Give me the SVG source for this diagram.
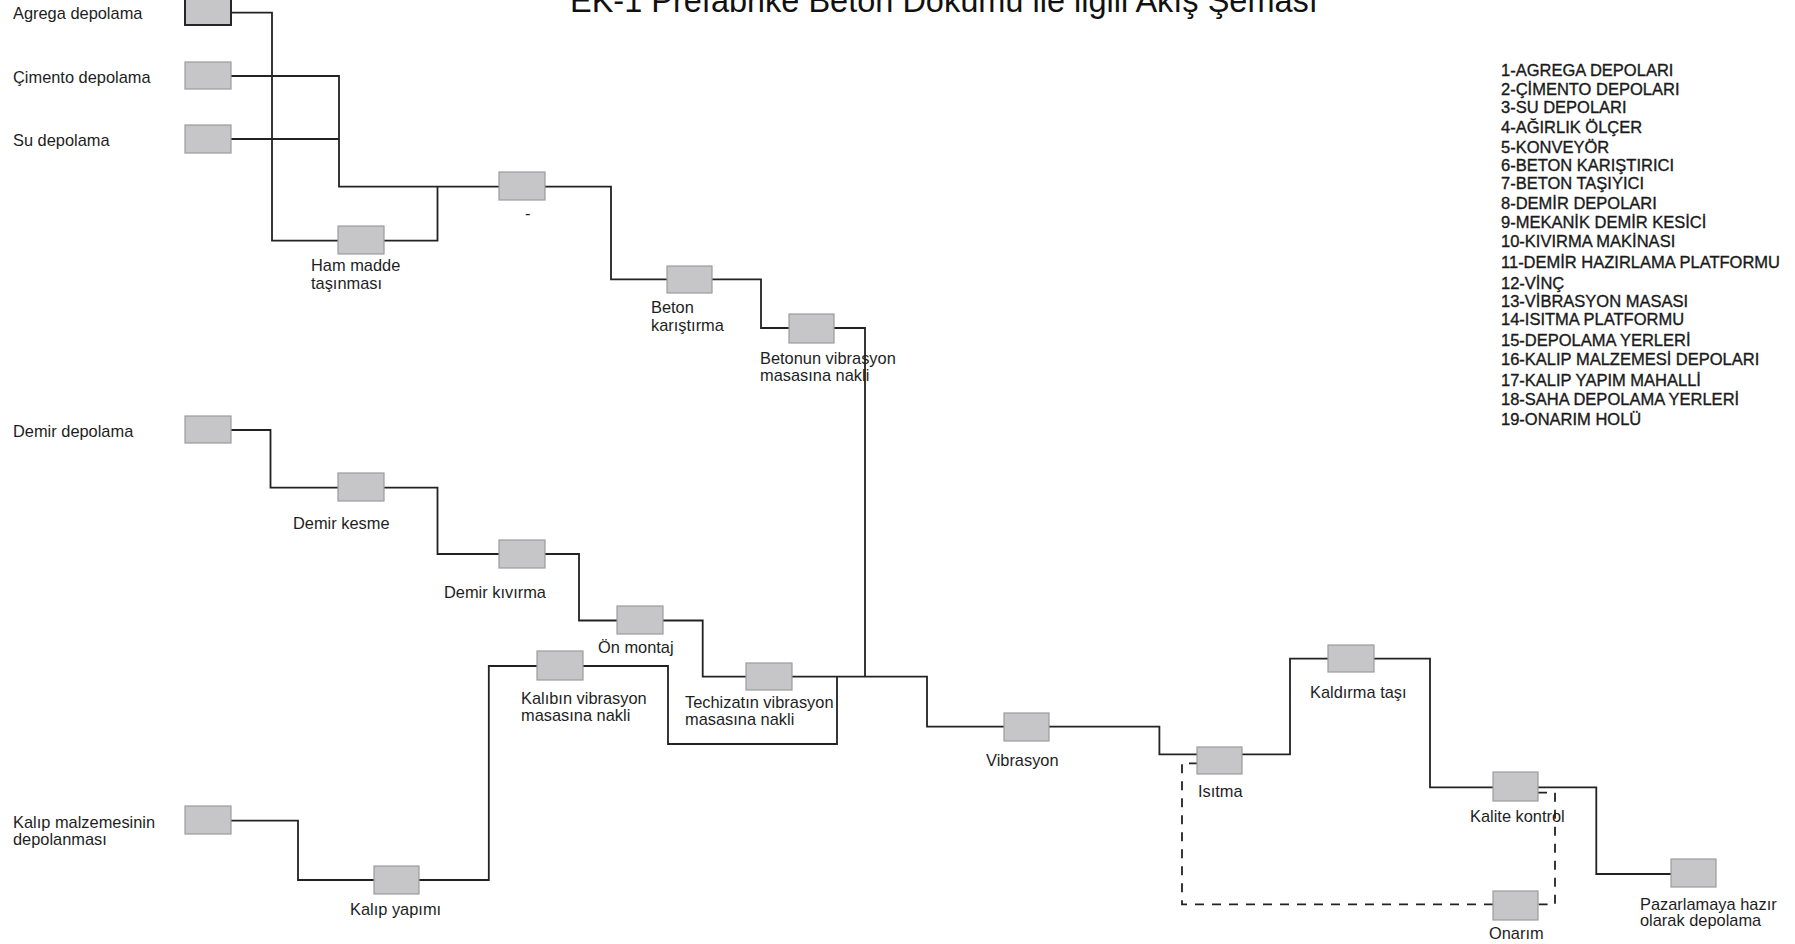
<svg xmlns="http://www.w3.org/2000/svg" width="1795" height="944" viewBox="0 0 1795 944">
  <style>
    .bg { fill: #ffffff; }
    .box { fill: #c6c6c8; stroke: #9c9c9c; stroke-width: 1.2; }
    .box.dark { stroke: #262626; stroke-width: 2; }
    .lbl { font-family: "Liberation Sans", Arial, sans-serif; font-size: 16.4px; fill: #1e1e1e; }
    .title { font-family: "Liberation Sans", Arial, sans-serif; font-size: 32.5px; fill: #111111; }
    .legend { font-family: "Liberation Sans", Arial, sans-serif; font-size: 16.5px; fill: #1a1a1a; stroke: #1a1a1a; stroke-width: 0.35; }
    .wire { fill: none; stroke: #222222; stroke-width: 1.8; }
    .wire.dash { stroke-dasharray: 9 8; }
  </style>
  <rect class="bg" x="0" y="0" width="1795" height="944"/>

  <text class="title" x="570" y="12">EK-1 Prefabrike Beton Dökümü ile ilgili Akış Şeması</text>

  <!-- flow connectors -->
  <g id="connectors">
    <path class="wire" d="M231,12.7 H272 V240.7 H338"/>
    <path class="wire" d="M231,76 H339 V186.7 H499"/>
    <path class="wire" d="M231,139 H339"/>
    <path class="wire" d="M384,240.7 H437.5 V186.7"/>
    <path class="wire" d="M545,186.7 H611 V279.3 H667"/>
    <path class="wire" d="M712,279.3 H761 V328 H789"/>
    <path class="wire" d="M834,328 H865 V676.7"/>
    <path class="wire" d="M231,430 H270.5 V487.7 H338"/>
    <path class="wire" d="M384,487.7 H437.5 V554 H499"/>
    <path class="wire" d="M545,554 H579 V620.5 H617"/>
    <path class="wire" d="M663,620.5 H702.7 V676.7 H746"/>
    <path class="wire" d="M792,676.7 H927 V726.7 H1004"/>
    <path class="wire" d="M231,820.7 H298 V880 H374"/>
    <path class="wire" d="M419,880 H488.8 V666 H537"/>
    <path class="wire" d="M583,666 H668 V744 H837 V676.7"/>
    <path class="wire" d="M1049,726.7 H1159.4 V754.3 H1197"/>
    <path class="wire" d="M1242,754.3 H1290 V658.7 H1328"/>
    <path class="wire" d="M1374,658.7 H1430 V787.3 H1493"/>
    <path class="wire" d="M1538,787.3 H1596.3 V874 H1671"/>
    <path class="wire dash" d="M1538,792.7 H1555 V904.3 H1538"/>
    <path class="wire dash" d="M1493,904.3 H1182 V763.3 H1197"/>
  </g>

  <!-- process nodes -->
  <g id="agrega"><rect class="box dark" x="185" y="-1" width="46" height="26"/><text class="lbl" x="13" y="18.5">Agrega depolama</text></g>
  <g id="cimento"><rect class="box" x="185" y="62" width="46" height="27"/><text class="lbl" x="13" y="82.5">Çimento depolama</text></g>
  <g id="su"><rect class="box" x="185" y="125" width="46" height="28"/><text class="lbl" x="13" y="145.5">Su depolama</text></g>
  <g id="olcum"><rect class="box" x="499" y="172" width="46" height="28"/><text class="lbl" x="525" y="219">-</text></g>
  <g id="hammadde"><rect class="box" x="338" y="226" width="46" height="28"/><text class="lbl" x="311" y="271">Ham madde</text><text class="lbl" x="311" y="289">taşınması</text></g>
  <g id="karistirma"><rect class="box" x="667" y="266" width="45" height="27"/><text class="lbl" x="651" y="313">Beton</text><text class="lbl" x="651" y="330.5">karıştırma</text></g>
  <g id="beton-nakli"><rect class="box" x="789" y="314" width="45" height="29"/><text class="lbl" x="760" y="364">Betonun vibrasyon</text><text class="lbl" x="760" y="381">masasına nakli</text></g>
  <g id="demir-depolama"><rect class="box" x="185" y="416" width="46" height="27"/><text class="lbl" x="13" y="436.5">Demir depolama</text></g>
  <g id="demir-kesme"><rect class="box" x="338" y="473" width="46" height="28"/><text class="lbl" x="293" y="528.5">Demir kesme</text></g>
  <g id="demir-kivirma"><rect class="box" x="499" y="540" width="46" height="28"/><text class="lbl" x="444" y="597.5">Demir kıvırma</text></g>
  <g id="on-montaj"><rect class="box" x="617" y="606" width="46" height="28"/><text class="lbl" x="598" y="652.5">Ön montaj</text></g>
  <g id="kalip-nakli"><rect class="box" x="537" y="651" width="46" height="29"/><text class="lbl" x="521" y="703.5">Kalıbın vibrasyon</text><text class="lbl" x="521" y="720.5">masasına nakli</text></g>
  <g id="techizat-nakli"><rect class="box" x="746" y="663" width="46" height="27"/><text class="lbl" x="685" y="707.5">Techizatın vibrasyon</text><text class="lbl" x="685" y="724.5">masasına nakli</text></g>
  <g id="kalip-malzeme"><rect class="box" x="185" y="806" width="46" height="28"/><text class="lbl" x="13" y="827.5">Kalıp malzemesinin</text><text class="lbl" x="13" y="844.5">depolanması</text></g>
  <g id="kalip-yapimi"><rect class="box" x="374" y="866" width="45" height="28"/><text class="lbl" x="350" y="914.5">Kalıp yapımı</text></g>
  <g id="vibrasyon"><rect class="box" x="1004" y="713" width="45" height="28"/><text class="lbl" x="986" y="765.5">Vibrasyon</text></g>
  <g id="isitma"><rect class="box" x="1197" y="747" width="45" height="27"/><text class="lbl" x="1198" y="796.5">Isıtma</text></g>
  <g id="kaldirma"><rect class="box" x="1328" y="645" width="46" height="27"/><text class="lbl" x="1310" y="697.5">Kaldırma taşı</text></g>
  <g id="kalite"><rect class="box" x="1493" y="772" width="45" height="29"/><text class="lbl" x="1470" y="821.5">Kalite kontrol</text></g>
  <g id="onarim"><rect class="box" x="1493" y="891" width="45" height="29"/><text class="lbl" x="1489" y="938.5">Onarım</text></g>
  <g id="depolama-son"><rect class="box" x="1671" y="859" width="45" height="28"/><text class="lbl" x="1640" y="909.5">Pazarlamaya hazır</text><text class="lbl" x="1640" y="926">olarak depolama</text></g>

  <!-- equipment list -->
  <g id="legend">
    <text class="legend" x="1501" y="76">1-AGREGA DEPOLARI</text>
    <text class="legend" x="1501" y="94.5">2-ÇİMENTO DEPOLARI</text>
    <text class="legend" x="1501" y="112.5">3-SU DEPOLARI</text>
    <text class="legend" x="1501" y="133">4-AĞIRLIK ÖLÇER</text>
    <text class="legend" x="1501" y="152.5">5-KONVEYÖR</text>
    <text class="legend" x="1501" y="170.5">6-BETON KARIŞTIRICI</text>
    <text class="legend" x="1501" y="188.5">7-BETON TAŞIYICI</text>
    <text class="legend" x="1501" y="208.5">8-DEMİR DEPOLARI</text>
    <text class="legend" x="1501" y="228">9-MEKANİK DEMİR KESİCİ</text>
    <text class="legend" x="1501" y="247">10-KIVIRMA MAKİNASI</text>
    <text class="legend" x="1501" y="268">11-DEMİR HAZIRLAMA PLATFORMU</text>
    <text class="legend" x="1501" y="288.5">12-VİNÇ</text>
    <text class="legend" x="1501" y="307">13-VİBRASYON MASASI</text>
    <text class="legend" x="1501" y="325">14-ISITMA PLATFORMU</text>
    <text class="legend" x="1501" y="345.5">15-DEPOLAMA YERLERİ</text>
    <text class="legend" x="1501" y="365">16-KALIP MALZEMESİ DEPOLARI</text>
    <text class="legend" x="1501" y="385.5">17-KALIP YAPIM MAHALLİ</text>
    <text class="legend" x="1501" y="405">18-SAHA DEPOLAMA YERLERİ</text>
    <text class="legend" x="1501" y="425">19-ONARIM HOLÜ</text>
  </g>
</svg>
